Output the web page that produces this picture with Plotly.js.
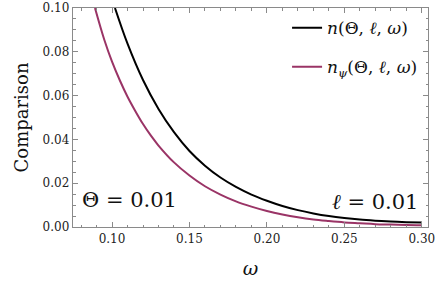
<!DOCTYPE html>
<html>
<head>
<meta charset="utf-8">
<script src="https://cdn.plot.ly/plotly-3.0.1.min.js"></script>
<style>html,body{margin:0;padding:0;background:#fff;}#chart{width:438px;height:291px;}</style>
</head>
<body>
<div id="chart"></div>
<script>
// Data
var omegaN = [0.1019, 0.11, 0.12, 0.13, 0.14, 0.15, 0.16, 0.17, 0.18, 0.19, 0.20, 0.21, 0.22, 0.23, 0.24, 0.25, 0.26, 0.27, 0.28, 0.29, 0.30];
var valuesN = [0.100, 0.0837, 0.0671, 0.0539, 0.0433, 0.0347, 0.0280, 0.0226, 0.0183, 0.0148, 0.0120, 0.0096, 0.0077, 0.0062, 0.0050, 0.0041, 0.0034, 0.0029, 0.0025, 0.0022, 0.0020];
var omegaPsi = [0.089, 0.095, 0.10, 0.105, 0.11, 0.115, 0.12, 0.125, 0.13, 0.14, 0.15, 0.16, 0.17, 0.18, 0.19, 0.20, 0.21, 0.22, 0.23, 0.24, 0.25, 0.26, 0.27, 0.28, 0.29, 0.30];
var valuesPsi = [0.100, 0.0855, 0.0755, 0.0670, 0.0595, 0.0530, 0.0470, 0.0418, 0.0372, 0.0295, 0.0235, 0.0186, 0.0148, 0.0117, 0.0093, 0.0073, 0.0057, 0.0044, 0.0034, 0.0027, 0.0021, 0.0017, 0.0013, 0.0011, 0.0009, 0.0008];
var seriesNames = ["<i>n</i>(Θ, <i>ℓ</i>, <i>ω</i>)", "<i>n</i><sub><i>ψ</i></sub>(Θ, <i>ℓ</i>, <i>ω</i>)"];
var xTitle = "<i>ω</i>";
var yTitle = "Comparison";
var noteLeft = "Θ = 0.01";
var noteRight = "<i>ℓ</i> = 0.01";

var serif = "DejaVu Serif";
var frame = "#8a8a8a";

var traces = [
  {x: omegaN, y: valuesN, type: "scatter", mode: "lines", name: seriesNames[0], legendgroup: "a",
   line: {color: "#000000", width: 2, shape: "spline", smoothing: 1}},
  {x: omegaPsi, y: valuesPsi, type: "scatter", mode: "lines", name: seriesNames[1], legendgroup: "b",
   line: {color: "#9a3466", width: 2, shape: "spline", smoothing: 1}}
];

var axisCommon = {
  showgrid: false, zeroline: false, showline: true, linecolor: frame, linewidth: 1.3,
  mirror: "ticks", ticks: "inside", ticklen: 5, tickwidth: 1, tickcolor: frame,
  tickfont: {family: serif, size: 12, color: "#222"}, tickformat: ".2f"
};

var layout = {
  width: 438, height: 291,
  margin: {l: 73, r: 10, t: 8, b: 64},
  paper_bgcolor: "#fff", plot_bgcolor: "#fff",
  font: {family: serif},
  showlegend: true,
  legend: {x: 0.603, xanchor: "left", y: 0.99, yanchor: "top", bgcolor: "rgba(0,0,0,0)",
           font: {family: serif, size: 17, color: "#111"}, tracegroupgap: 14},
  xaxis: Object.assign({}, axisCommon, {
    range: [0.0748, 0.304], tick0: 0, dtick: 0.05,
    minor: {tick0: 0, dtick: 0.01, ticks: "inside", ticklen: 2.5, tickcolor: frame, tickwidth: 1},
    title: {text: xTitle, font: {family: serif, size: 19, color: "#111"}, standoff: 17}
  }),
  yaxis: Object.assign({}, axisCommon, {
    range: [0, 0.1], tick0: 0, dtick: 0.02,
    minor: {tick0: 0, dtick: 0.005, ticks: "inside", ticklen: 2.5, tickcolor: frame, tickwidth: 1},
    title: {text: yTitle, font: {family: serif, size: 18, color: "#111"}, standoff: 9}
  }),
  annotations: [
    {text: noteLeft, xref: "paper", yref: "paper", x: 0.02, y: 0.123, xanchor: "left", yanchor: "middle",
     showarrow: false, font: {family: serif, size: 21, color: "#111"}},
    {text: noteRight, xref: "paper", yref: "paper", x: 0.977, y: 0.114, xanchor: "right", yanchor: "middle",
     showarrow: false, font: {family: serif, size: 21, color: "#111"}}
  ]
};

Plotly.newPlot("chart", traces, layout, {displayModeBar: false, staticPlot: true});
</script>
</body>
</html>
